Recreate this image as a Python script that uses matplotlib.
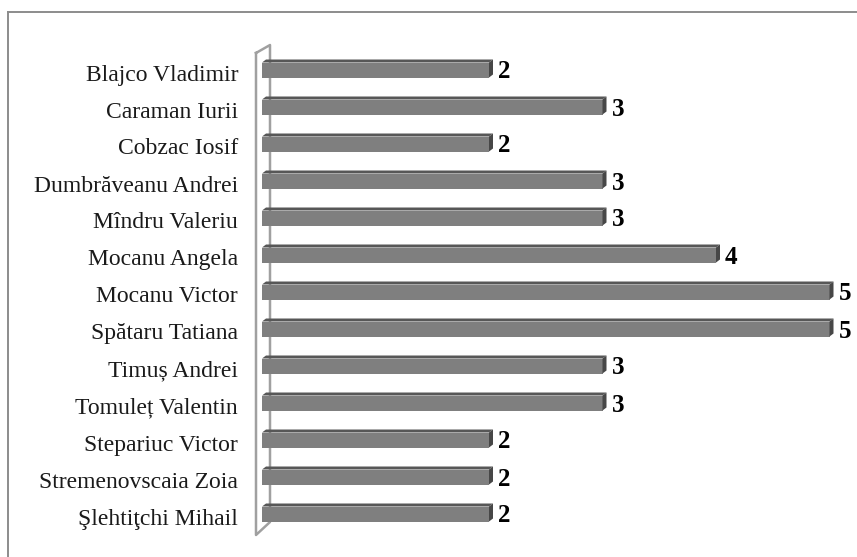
import matplotlib
matplotlib.use("Agg")
import matplotlib.pyplot as plt
from matplotlib.patches import Polygon
from matplotlib.lines import Line2D

names = ["Blajco Vladimir", "Caraman Iurii", "Cobzac Iosif", "Dumbrăveanu Andrei",
         "Mîndru Valeriu", "Mocanu Angela", "Mocanu Victor", "Spătaru Tatiana",
         "Timuș Andrei", "Tomuleț Valentin", "Stepariuc Victor", "Stremenovscaia Zoia",
         "Şlehtiţchi Mihail"]
values = [2, 3, 2, 3, 3, 4, 5, 5, 3, 3, 2, 2, 2]

W, H = 857, 557
fig = plt.figure(figsize=(W/100, H/100), dpi=100)
fig.patch.set_facecolor("white")

# pixel geometry
x0_px, unit_px = 262, 113.5
y0_px, step_px = 68, 37.0
top_px, bot_px = 45, 535
xmax = 5.2
ax = fig.add_axes([x0_px/W, 1-bot_px/H, xmax*unit_px/W, (bot_px-top_px)/H])
ax.set_xlim(0, xmax)
ax.set_ylim((bot_px-y0_px)/step_px, (top_px-y0_px)/step_px)
ax.axis("off")

def px2d(px, py):
    return (px-x0_px)/unit_px, (py-y0_px)/step_px

# wall
wall_pts = [(256, 53), (256, 535), (270, 522), (270, 45), (256, 53)]
wx, wy = zip(*[px2d(*p) for p in wall_pts])
ax.plot(wx, wy, color="#a0a0a0", lw=1.8, zorder=1, clip_on=False)

dx = 4/unit_px
dy = 3/step_px
hf = 15/step_px
for i, (n, v) in enumerate(zip(names, values)):
    yc = i + 2/step_px
    top = yc - hf/2
    bot = yc + hf/2
    ax.add_patch(Polygon([(0, bot), (v, bot), (v, top), (0, top)], closed=True,
                         facecolor="#7f7f7f", edgecolor="none", zorder=3))
    ax.add_patch(Polygon([(0, top), (v, top), (v+dx, top-dy), (dx, top-dy)], closed=True,
                         facecolor="#575757", edgecolor="none", zorder=3))
    ax.add_patch(Polygon([(v, bot), (v, top), (v+dx, top-dy), (v+dx, bot-dy)], closed=True,
                         facecolor="#474747", edgecolor="none", zorder=3))
    ax.text(v + dx + 5/unit_px, yc + 2/step_px, str(v), ha="left", va="center",
            fontsize=18, fontweight="bold", family="Liberation Serif", color="black",
            clip_on=False)
    ax.text(-24/unit_px, i + 7/step_px, n, ha="right", va="center",
            fontsize=17, family="Liberation Serif", color="#1a1a1a", clip_on=False)

# outer frame (left and top visible)
fig.add_artist(Line2D([8/W, 8/W], [1-12/H, 0], color="#8c8c8c", lw=1.4))
fig.add_artist(Line2D([8/W, 1], [1-12/H, 1-12/H], color="#8c8c8c", lw=1.4))

fig.savefig("out.png", dpi=100)
